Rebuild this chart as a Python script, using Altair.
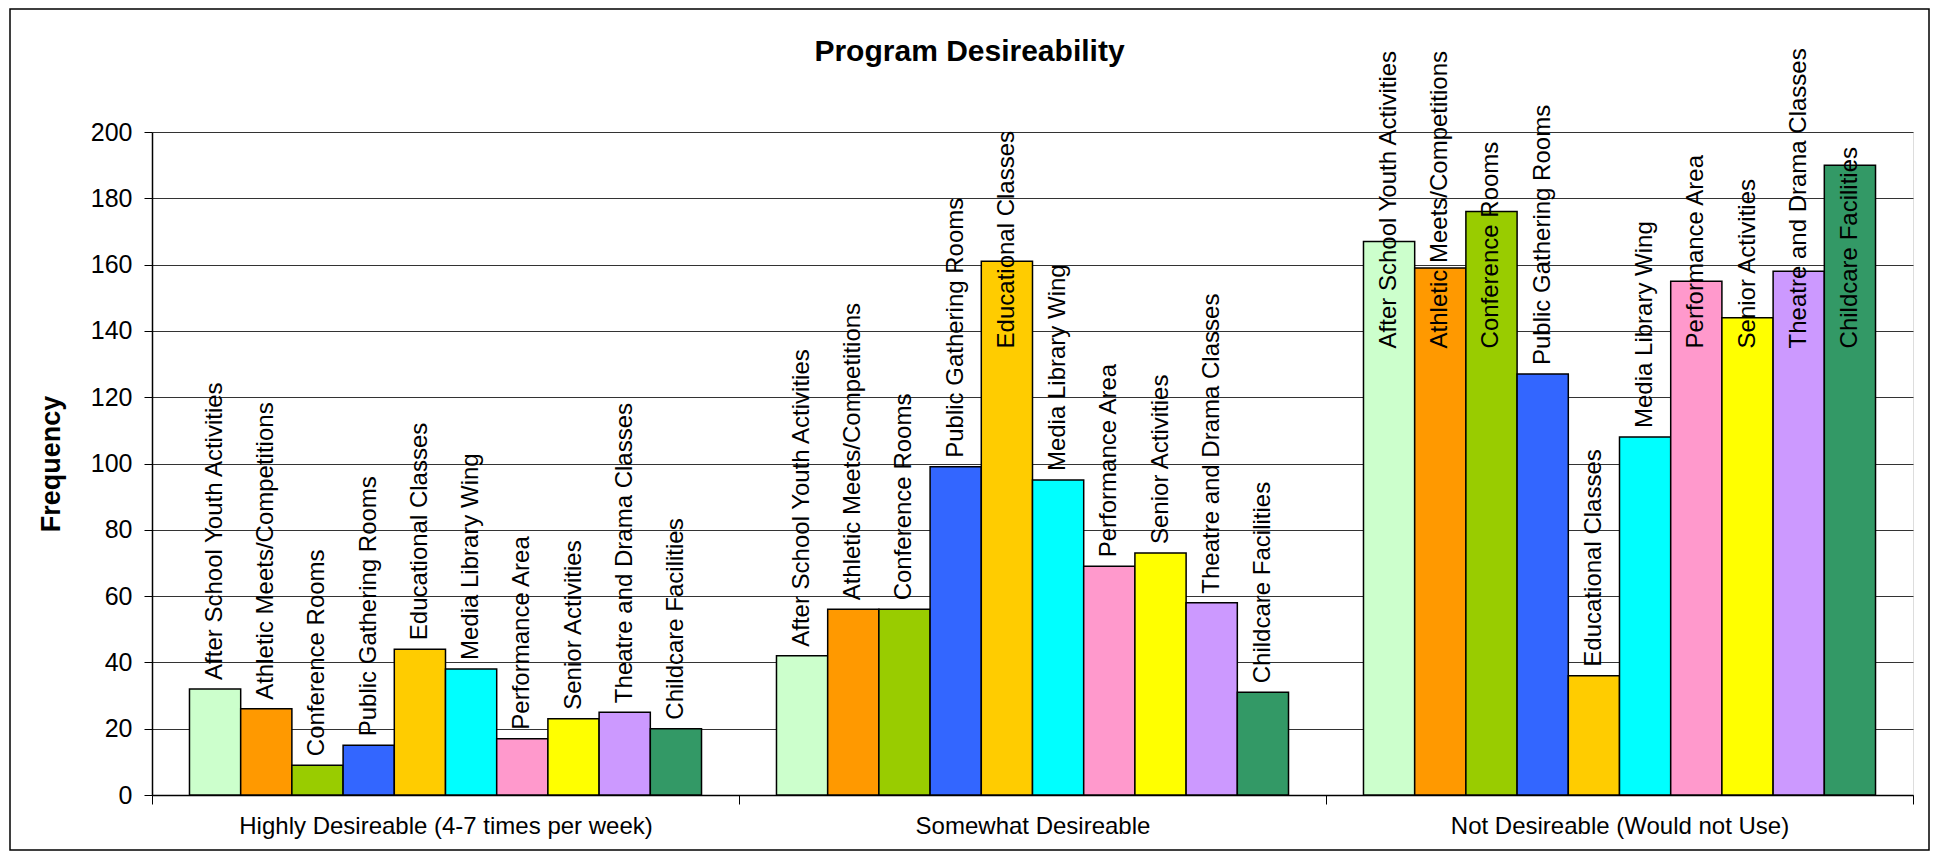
import altair as alt
import pandas as pd

groups = ["Highly Desireable (4-7 times per week)", "Somewhat Desireable", "Not Desireable (Would not Use)"]
programs = ["After School Youth Activities", "Athletic Meets/Competitions", "Conference Rooms",
            "Public Gathering Rooms", "Educational Classes", "Media Library Wing", "Performance Area",
            "Senior Activities", "Theatre and Drama Classes", "Childcare Facilities"]
highly = [32, 26, 9, 15, 44, 38, 17, 23, 25, 20]
somewhat = [42, 56, 56, 99, 161, 95, 69, 73, 58, 31]
not_desireable = [167, 159, 176, 127, 36, 108, 155, 144, 158, 190]
colors = ["#CCFFCC", "#FF9900", "#99CC00", "#3366FF", "#FFCC00", "#00FFFF", "#FF99CC",
          "#FFFF00", "#CC99FF", "#339966"]
y_ticks = [0, 20, 40, 60, 80, 100, 120, 140, 160, 180, 200]

rows = []
for g, vals in zip(groups, [highly, somewhat, not_desireable]):
    for p, v in zip(programs, vals):
        rows.append({"group": g, "program": p, "value": v})
df = pd.DataFrame(rows)

FONT = "Liberation Sans"
W, H = 1761, 663

x_enc = alt.X("group:N", sort=groups,
              scale=alt.Scale(paddingInner=0, paddingOuter=0),
              axis=alt.Axis(title=None, labelAngle=0, labelFontSize=24, labelFont=FONT,
                            labelColor="black", labelLimit=0, tickBand="extent", tickSize=9,
                            tickColor="black", domainColor="black", domainWidth=1.5,
                            labelPadding=10, grid=False))
xoff_enc = alt.XOffset("program:N", sort=programs,
                       scale=alt.Scale(paddingInner=0, paddingOuter=0.732))
y_axis = alt.Axis(values=y_ticks, title="Frequency", labelFontSize=25, labelFont=FONT,
                  labelColor="black", tickSize=8, tickColor="black", domainColor="black",
                  domainWidth=1.5, labelPadding=12, gridColor="#333333", gridWidth=1,
                  titleFontSize=27, titleFont=FONT, titleFontWeight="bold", titleColor="black",
                  titleX=-87, titleBaseline="bottom")
y_scale = alt.Scale(domain=[0, 200], nice=False)

frame = alt.Chart(pd.DataFrame({"a": [0]})).mark_rect(
    fill="white", fillOpacity=0, stroke="black", strokeWidth=1.5
).encode(x=alt.value(-142), x2=alt.value(1777), y=alt.value(-123), y2=alt.value(718))

bars = alt.Chart(df).mark_bar(stroke="black", strokeWidth=1.5).encode(
    x=x_enc,
    xOffset=xoff_enc,
    y=alt.Y("value:Q", scale=y_scale, axis=y_axis),
    color=alt.Color("program:N", sort=programs,
                    scale=alt.Scale(domain=programs, range=colors), legend=None),
)

labels = alt.Chart(df).transform_calculate(
    lab="min(datum.value, 132)"
).mark_text(angle=270, align="left", baseline="middle", dx=9, fontSize=24,
            font=FONT, color="black").encode(
    x=x_enc,
    xOffset=xoff_enc,
    y=alt.Y("lab:Q", scale=y_scale, axis=y_axis),
    text="program:N",
)

chart = alt.layer(frame, bars, labels).properties(
    width=W, height=H,
    autosize=alt.AutoSizeParams(type="none"),
    padding={"left": 144, "top": 124, "right": 18, "bottom": 56},
    title=alt.TitleParams("Program Desireability", fontSize=30, font=FONT, fontWeight="bold",
                          color="black", anchor="middle", dx=-63, dy=83, offset=0,
                          baseline="alphabetic"),
).configure_view(stroke="#808080", strokeWidth=1).configure(background="white")

chart.save("out.html", embed_options={"renderer": "svg", "actions": False})
